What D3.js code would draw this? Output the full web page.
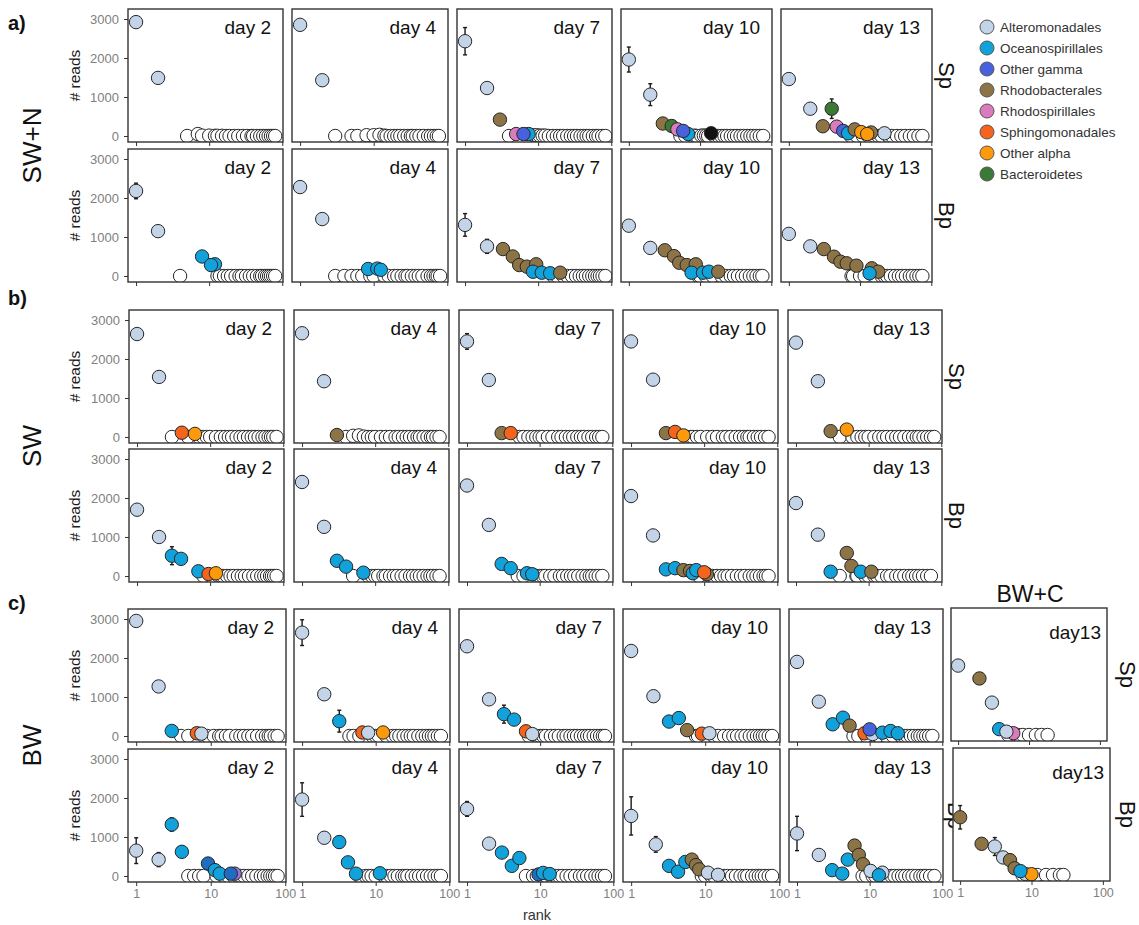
<!DOCTYPE html>
<html><head><meta charset="utf-8">
<script src="https://cdn.jsdelivr.net/npm/d3@7"></script>
<style>
body{margin:0;background:#fff}
svg{display:block;font-family:"Liberation Sans",Arial,Helvetica,sans-serif}
</style>
</head><body>
<svg id="chart" width="1139" height="925"></svg>
<script>
// ---- categories and labels ----
const taxa = ["Alteromonadales","Oceanospirillales","Other gamma","Rhodobacterales","Rhodospirillales","Sphingomonadales","Other alpha","Bacteroidetes"];
const taxaCodes = ["A","O","G","R","S","P","L","B"];
const taxaColors = ["#c3d4e8","#12a2db","#4762dc","#8d7446","#d97bbd","#f4641c","#fd9a0b","#3b7a35"];
// unlisted taxa that still get their own fill
const extraCodes = ["-","K","D","V"];
const extraColors = ["#ffffff","#111111","#1f6cc0","#9d72d8"];
const days = ["day 2","day 4","day 7","day 10","day 13"];
const fractions = ["Sp","Bp"];
const treatments = ["SW+N","SW","BW"];
const panelTags = ["a)","b)","c)"];
const xTicks = [1,10,100];
const yTicks = [0,1000,2000,3000];

// ---- SW+N : [rank, reads, taxon, error] ; *_o = remaining taxa [rank, reads] ----
const SWN_Sp_d2 = [[1,2920,"A"],[2,1490,"A"]];
const SWN_Sp_d2_o = [[5,0],[7,50],[8,10],[10,10],[12,5],[13,5],[15,5],[17,0],[19,0],[22,0],[25,0],[29,0],[33,0],[38,0],[40,0],[45,0],[50,0],[55,0],[60,0],[65,0],[70,0],[75,0],[80,0]];
const SWN_Bp_d2 = [[1,2180,"A",200],[2,1150,"A"],[8,500,"O"],[12,300,"O"],[10.6,280,"O"]];
const SWN_Bp_d2_o = [[4,0],[13,0],[14,5],[16,0],[18,0],[20,0],[23,0],[26,0],[28,0],[32,0],[36,0],[40,0],[45,0],[50,0],[53,0],[58,0],[62,0],[66,0],[70,0],[75,0],[80,0]];
const SWN_Sp_d4 = [[1,2850,"A"],[2,1430,"A"]];
const SWN_Sp_d4_o = [[3,0],[5,0],[6,0],[8,20],[10,20],[12,30],[14,10],[15,0],[17,0],[19,0],[21,0],[23,0],[26,0],[29,0],[32,0],[34,0],[38,0],[42,0],[48,0],[55,0],[60,0],[66,0],[72,0],[77,0]];
const SWN_Bp_d4 = [[1,2280,"A"],[2,1460,"A"],[8.4,180,"O"],[11.2,190,"O"],[12.5,160,"O"]];
const SWN_Bp_d4_o = [[3,0],[4,0],[5,0],[6,0],[7,0],[9,0],[10,0],[14,0],[16,0],[19,0],[21,0],[24,0],[27,0],[29,0],[33,0],[37,0],[41,0],[46,0],[54,0],[60,0],[65,0],[70,0],[74,0],[80,0]];
const SWN_Sp_d7 = [[1,2430,"A",350],[2,1230,"A",80],[3,420,"R"],[5,50,"S"],[7.4,50,"O"],[6.3,50,"G"]];
const SWN_Sp_d7_o = [[4,0],[8.6,20],[9.5,20],[10.5,10],[11.5,10],[12.5,10],[14,0],[16,0],[18,0],[20,0],[22,0],[25,0],[28,0],[31,0],[34,0],[38,0],[42,0],[46,0],[50,0],[56,0],[62,0],[67,0],[75,0],[83,0]];
const SWN_Bp_d7 = [[1,1310,"A",290],[2,760,"A",180],[3.3,690,"R"],[4.5,500,"R"],[5.5,280,"R"],[7,240,"R"],[9.4,300,"R"],[8.5,110,"O"],[11.2,85,"O"],[14.6,70,"O"],[20,85,"R"]];
const SWN_Bp_d7_o = [[16,0],[18,0],[22,0],[25,0],[29,0],[33,0],[37,0],[41,0],[45,0],[50,0],[55,0],[60,0],[65,0],[70,0],[76,0],[83,0]];
const SWN_Sp_d10 = [[1,1960,"A",320],[2,1060,"A",280],[3,320,"R"],[4,256,"B"],[4.8,170,"S"],[6.8,50,"O"],[5.8,130,"G"],[14.3,70,"K",30]];
const SWN_Sp_d10_o = [[5.3,0],[6.2,0],[8.4,10],[9,0],[10.4,10],[11.3,10],[12.2,10],[13,0],[16,0],[18,0],[20,0],[22,0],[24,0],[27,0],[30,0],[33,0],[37,0],[41,0],[46,0],[51,0],[56,0],[62,0],[69,0],[77,0]];
const SWN_Bp_d10 = [[1,1290,"A",120],[2,720,"A"],[3.2,660,"R"],[4.3,510,"R"],[5.1,340,"R"],[6.5,280,"R"],[8.7,300,"R"],[7.6,85,"O"],[11,85,"O"],[13.3,110,"O"],[18,110,"R"]];
const SWN_Bp_d10_o = [[9.4,0],[10,0],[12,0],[15,0],[20,0],[23,0],[27,0],[30,0],[34,0],[39,0],[44,0],[50,0],[56,0],[62,0],[69,0],[75,0]];
const SWN_Sp_d13 = [[1,1460,"A"],[2,700,"A"],[3,250,"R"],[4,700,"B",250],[4.7,240,"S"],[5.8,130,"G"],[6.8,70,"O"],[8.4,170,"R"],[14.3,90,"R"],[10.4,100,"L"],[12.6,50,"L"],[22,70,"A"]];
const SWN_Sp_d13_o = [[7.4,0],[9,0],[11,0],[13,0],[16,0],[18,0],[20,0],[25,0],[28,0],[33,0],[38,0],[43,0],[50,0],[57,0],[66,0],[75,0]];
const SWN_Bp_d13 = [[1,1080,"A"],[2,760,"A"],[3.1,690,"R"],[4.3,495,"R"],[5.3,367,"R"],[6.5,325,"R"],[8.9,265,"R"],[14.6,197,"R"],[18,110,"R"],[13.6,70,"O"]];
const SWN_Bp_d13_o = [[7.6,0],[8,0],[10,0],[11.6,0],[16,0],[20,0],[22,0],[24,0],[27,0],[31,0],[35,0],[39,0],[44,0],[50,0],[55,0],[62,0],[68,0],[75,0]];

// ---- SW ----
const SW_Sp_d2 = [[1,2640,"A"],[2,1540,"A"],[4.1,110,"P"],[6.2,80,"L"]];
const SW_Sp_d2_o = [[3,0],[5,0],[7,0],[8,0],[9,0],[10,0],[12,0],[14,0],[16,0],[18,0],[20,0],[23,0],[26,0],[29,0],[33,0],[37,0],[41,0],[46,0],[52,0],[57,0],[63,0],[68,0],[73,0],[81,0]];
const SW_Bp_d2 = [[1,1700,"A"],[2,1000,"A"],[3,520,"O",230],[4,440,"O"],[6.9,120,"O"],[9.5,50,"P"],[12,70,"L"]];
const SW_Bp_d2_o = [[8.1,0],[13,0],[14,0],[15,0],[17,0],[19,0],[21,0],[24,0],[27,0],[30,0],[34,0],[39,0],[44,0],[50,0],[55,0],[60,0],[66,0],[70,0],[75,0],[81,0]];
const SW_Sp_d4 = [[1,2660,"A"],[2,1430,"A"],[3,50,"R"]];
const SW_Sp_d4_o = [[4,0],[5,30],[6,40],[7,10],[8,0],[9,0],[10,0],[12,0],[14,0],[16,0],[19,0],[21,0],[24,0],[27,0],[30,0],[34,0],[38,0],[41,0],[46,0],[52,0],[58,0],[62,0],[69,0],[76,0]];
const SW_Bp_d4 = [[1,2410,"A"],[2,1260,"A"],[3,390,"O"],[4,240,"O"],[6.9,85,"O"]];
const SW_Bp_d4_o = [[5,0],[8,0],[9,0],[10,0],[11,0],[13,0],[14,0],[16,0],[18,0],[20,0],[23,0],[26,0],[30,0],[33,0],[37,0],[41,0],[46,0],[52,0],[57,0],[62,0],[69,0],[76,0]];
const SW_Sp_d7 = [[1,2450,"A",200],[2,1460,"A"],[3,100,"R"],[4,100,"P"]];
const SW_Sp_d7_o = [[5.3,0],[6,0],[7,0],[8,0],[9,0],[10,0],[11,0],[13,0],[15,0],[18,0],[20,0],[23,0],[26,0],[29,0],[33,0],[37,0],[41,0],[47,0],[53,0],[60,0],[66,0],[73,0]];
const SW_Bp_d7 = [[1,2320,"A"],[2,1310,"A"],[3,310,"O"],[4,200,"O"],[6.7,70,"O"],[7.9,45,"O"]];
const SW_Bp_d7_o = [[5,0],[6,0],[9,0],[10,0],[11,0],[12,0],[14,0],[16,0],[19,0],[21,0],[24,0],[27,0],[30,0],[34,0],[39,0],[44,0],[49,0],[53,0],[59,0],[65,0],[73,0]];
const SW_Sp_d10 = [[1,2450,"A"],[2,1470,"A"],[3,100,"R"],[4,130,"P"],[5.2,40,"L"]];
const SW_Sp_d10_o = [[5.8,0],[6.5,0],[7,0],[8,0],[9,0],[11,0],[13,0],[15,0],[18,0],[20,0],[23,0],[27,0],[31,0],[35,0],[39,0],[42,0],[48,0],[54,0],[60,0],[68,0],[76,0]];
const SW_Bp_d10 = [[1,2050,"A",60],[2,1040,"A"],[3,170,"O"],[4,200,"O"],[5.2,150,"R"],[6.4,130,"R"],[7,70,"O"],[7.8,150,"O"],[10.9,45,"R"],[10,95,"P"]];
const SW_Bp_d10_o = [[8.5,0],[12,0],[13,0],[15,0],[17,0],[19,0],[21,0],[24,0],[28,0],[32,0],[36,0],[42,0],[47,0],[52,0],[58,0],[65,0],[70,0],[76,0]];
const SW_Sp_d13 = [[1,2420,"A"],[2,1430,"A"],[3,150,"R"],[5,190,"L"]];
const SW_Sp_d13_o = [[4,0],[6,0],[7,0],[8,0],[9,0],[10,0],[12,0],[14,0],[16,0],[18,0],[21,0],[24,0],[27,0],[31,0],[36,0],[41,0],[46,0],[50,0],[57,0],[64,0],[72,0],[80,0]];
const SW_Bp_d13 = [[1,1870,"A"],[2,1060,"A",130],[3,110,"O"],[5,590,"R",100],[5.8,256,"R"],[7.8,110,"O"],[10.9,110,"R"]];
const SW_Bp_d13_o = [[4,0],[6.8,0],[7,0],[9,0],[10,0],[12,0],[13,0],[15,0],[18,0],[20,0],[24,0],[27,0],[31,0],[36,0],[40,0],[45,0],[50,0],[56,0],[64,0],[72,0]];

// ---- BW ----
const BW_Sp_d2 = [[1,2950,"A"],[2,1270,"A"],[3,130,"O"],[6.5,70,"P"],[7.5,60,"A"]];
const BW_Sp_d2_o = [[4,0],[5,0],[8,0],[9,0],[11,0],[13,0],[14,0],[16,0],[18,0],[22,0],[25,0],[28,0],[32,0],[36,0],[42,0],[49,0],[55,0],[60,0],[64,0],[72,0],[79,0]];
const BW_Bp_d2 = [[1,650,"A",330],[2,420,"A",180],[3,1320,"O",170],[4.1,620,"O"],[9.2,320,"D"],[11.4,150,"O"],[13.2,60,"O"],[21,60,"V"],[18.6,60,"D"]];
const BW_Bp_d2_o = [[5,0],[6,0],[7,0],[8,0],[12,0],[15,0],[17,0],[20,0],[23,0],[25,0],[28,0],[32,0],[36,0],[41,0],[47,0],[52,0],[58,0],[63,0],[68,0],[73,0],[79,0]];
const BW_Sp_d4 = [[1,2650,"A",330],[2,1070,"A"],[3.2,380,"O",280],[6.6,90,"P"],[7.9,85,"A"],[12.6,90,"L"]];
const BW_Sp_d4_o = [[4.4,0],[5,0],[6,0],[9,0],[10,0],[11,0],[14,0],[17,0],[19,0],[21,0],[24,0],[27,0],[30,0],[33,0],[38,0],[43,0],[48,0],[53,0],[58,0],[63,0],[70,0],[77,0]];
const BW_Bp_d4 = [[1,1960,"A",430],[2,980,"A"],[3.2,870,"O",150],[4.2,350,"O"],[5.4,60,"O"],[11.4,70,"O"]];
const BW_Bp_d4_o = [[6,0],[7.3,0],[8,0],[8.8,0],[10,0],[13,0],[14,0],[16,0],[18,0],[20,0],[23,0],[25,0],[27,0],[31,0],[35,0],[39,0],[44,0],[50,0],[56,0],[63,0],[70,0],[77,0]];
const BW_Sp_d7 = [[1,2300,"A"],[2,940,"A"],[3.2,560,"O",230],[4.4,420,"O"],[6.4,120,"P"],[7.8,50,"A"]];
const BW_Sp_d7_o = [[7,0],[9,0],[10,0],[11,0],[12,0],[14,0],[16,0],[18,0],[21,0],[23,0],[26,0],[29,0],[32,0],[36,0],[40,0],[44,0],[48,0],[54,0],[60,0],[66,0],[72,0],[77,0]];
const BW_Bp_d7 = [[1,1720,"A",190],[2,830,"A"],[3,600,"O"],[4.1,260,"O"],[5.2,460,"O"],[9.5,40,"D"],[11,80,"O"],[13.5,50,"O"]];
const BW_Bp_d7_o = [[6.4,0],[8,0],[9,0],[10.5,0],[12,0],[14,0],[16,0],[18,0],[20,0],[23,0],[26,0],[30,0],[35,0],[39,0],[44,0],[50,0],[57,0],[63,0],[70,0],[77,0]];
const BW_Sp_d10 = [[1,2180,"A"],[2,1020,"A"],[3.25,370,"O"],[4.4,460,"O"],[5.7,150,"R"],[9,60,"P"],[11.4,70,"A"]];
const BW_Sp_d10_o = [[7.5,0],[8,0],[13,0],[15,0],[18,0],[21,0],[24,0],[27,0],[31,0],[35,0],[40,0],[45,0],[50,0],[55,0],[60,0],[65,0],[72,0],[80,0]];
const BW_Bp_d10 = [[1,1540,"A",490],[2.15,810,"A",200],[3.25,260,"O"],[4.3,110,"O"],[5.4,360,"O"],[6.6,420,"R",80],[7.5,280,"R"],[8.3,170,"R"],[10.9,85,"A"],[14.9,30,"A"]];
const BW_Bp_d10_o = [[9,0],[10,0],[12,0],[13,0],[16,0],[18,0],[20,0],[23,0],[26,0],[30,0],[34,0],[37,0],[43,0],[48,0],[53,0],[58,0],[64,0],[72,0],[80,0]];
const BW_Sp_d13 = [[1,1900,"A"],[2,880,"A"],[3.1,300,"O"],[4.3,470,"O"],[5.3,265,"R"],[8.5,70,"P"],[11,50,"A"],[10,170,"G"],[15,85,"O"],[19.4,128,"O"],[24.4,70,"O"]];
const BW_Sp_d13_o = [[6,0],[7,0],[9,0],[12,0],[13,0],[17,0],[21,0],[27,0],[30,0],[33,0],[37,0],[41,0],[46,0],[50,0],[55,0],[60,0],[66,0],[73,0]];
const BW_Bp_d13 = [[1,1090,"A",440],[2,540,"A"],[3.05,150,"O"],[4.2,60,"O"],[5,420,"O"],[6.2,780,"R",150],[7.1,540,"R"],[8.1,300,"R"],[10.3,130,"A"],[15,85,"A"],[13.4,20,"O"]];
const BW_Bp_d13_o = [[8,0],[9,0],[11,0],[12,0],[14,0],[17,0],[20,0],[22,0],[25,0],[28,0],[31,0],[35,0],[39,0],[44,0],[50,0],[55,0],[60,0],[68,0],[78,0]];

// ---- BW+C ----
const BWC_day = "day13";
const BWC_Sp_d13 = [[1,1780,"A"],[2,1450,"R"],[3,830,"A"],[3.8,150,"O"],[6,45,"S"],[4.8,85,"A"]];
const BWC_Sp_d13_o = [[5.1,0],[7,0],[8.2,0],[10,0],[12.5,0],[15,0],[18.3,0]];
const BWC_Bp_d13 = [[1,1480,"R",300],[2,800,"R"],[3.06,730,"A",230],[4,450,"A"],[5,380,"R",150],[5.8,172,"R"],[8.2,25,"A"],[10,20,"L"],[7,100,"O"]];
const BWC_Bp_d13_o = [[7.5,0],[9,0],[12,0],[16,0],[20,0],[25,0],[28,0]];

// ---- panel tables ----
const gridData = [
  [[SWN_Sp_d2,SWN_Sp_d4,SWN_Sp_d7,SWN_Sp_d10,SWN_Sp_d13],[SWN_Bp_d2,SWN_Bp_d4,SWN_Bp_d7,SWN_Bp_d10,SWN_Bp_d13]],
  [[SW_Sp_d2,SW_Sp_d4,SW_Sp_d7,SW_Sp_d10,SW_Sp_d13],[SW_Bp_d2,SW_Bp_d4,SW_Bp_d7,SW_Bp_d10,SW_Bp_d13]],
  [[BW_Sp_d2,BW_Sp_d4,BW_Sp_d7,BW_Sp_d10,BW_Sp_d13],[BW_Bp_d2,BW_Bp_d4,BW_Bp_d7,BW_Bp_d10,BW_Bp_d13]]
];
const gridOther = [
  [[SWN_Sp_d2_o,SWN_Sp_d4_o,SWN_Sp_d7_o,SWN_Sp_d10_o,SWN_Sp_d13_o],[SWN_Bp_d2_o,SWN_Bp_d4_o,SWN_Bp_d7_o,SWN_Bp_d10_o,SWN_Bp_d13_o]],
  [[SW_Sp_d2_o,SW_Sp_d4_o,SW_Sp_d7_o,SW_Sp_d10_o,SW_Sp_d13_o],[SW_Bp_d2_o,SW_Bp_d4_o,SW_Bp_d7_o,SW_Bp_d10_o,SW_Bp_d13_o]],
  [[BW_Sp_d2_o,BW_Sp_d4_o,BW_Sp_d7_o,BW_Sp_d10_o,BW_Sp_d13_o],[BW_Bp_d2_o,BW_Bp_d4_o,BW_Bp_d7_o,BW_Bp_d10_o,BW_Bp_d13_o]]
];

// ---- layout ----
const PH = 133;
const layout = [
  {tops:[9,149],   lefts:[128,292,457,621,781], rights:[283,448,612,772,932], stripX:947, tagY:30},
  {tops:[310,449], lefts:[129,294,459,623,788], rights:[284,449,613,778,942], stripX:957, tagY:305},
  {tops:[609,749], lefts:[128,294,459,623,789], rights:[286,450,614,780,943], stripX:956, tagY:610}
];
const xDomMain = [Math.pow(10,-0.11), Math.pow(10,2.01)];
const xDomBWC  = [Math.pow(10,-0.10), Math.pow(10,2.10)];
const yDom = [-154, 3256];

const colorOf = code => {
  const i = taxaCodes.indexOf(code);
  return i >= 0 ? taxaColors[i] : extraColors[extraCodes.indexOf(code)];
};

const svg = d3.select("#chart");
const defs = svg.append("defs");
let clipN = 0;

function drawPanel(g, o) {
  const x = d3.scaleLog().domain(o.xDom).range([o.left, o.right]);
  const y = d3.scaleLinear().domain(yDom).range([o.top + PH, o.top]);
  const id = "clip" + (clipN++);
  defs.append("clipPath").attr("id", id).append("rect")
    .attr("x", o.left).attr("y", o.top).attr("width", o.right - o.left).attr("height", PH);

  g.append("rect").attr("x", o.left).attr("y", o.top)
    .attr("width", o.right - o.left).attr("height", PH).attr("fill", "#fff");

  const body = g.append("g").attr("clip-path", `url(#${id})`);
  const pts = o.other.map(d => ({r:d[0], v:d[1], c:"-", e:0}))
    .concat(o.data.map(d => ({r:d[0], v:d[1], c:d[2], e:d[3] || 0})));

  // error bars
  const eb = body.append("g").attr("stroke", "#1a1a1a").attr("stroke-width", 1.4).attr("fill", "none");
  pts.filter(d => d.e > 0).forEach(d => {
    const cx = x(d.r), y1 = y(d.v + d.e), y2 = y(d.v - d.e);
    eb.append("line").attr("x1", cx).attr("x2", cx).attr("y1", y1).attr("y2", y2);
    eb.append("line").attr("x1", cx - 2).attr("x2", cx + 2).attr("y1", y1).attr("y2", y1);
    eb.append("line").attr("x1", cx - 2).attr("x2", cx + 2).attr("y1", y2).attr("y2", y2);
  });

  body.append("g").selectAll("circle").data(pts).join("circle")
    .attr("cx", d => x(d.r)).attr("cy", d => y(d.v)).attr("r", 6.7)
    .attr("fill", d => colorOf(d.c)).attr("stroke", "#262626").attr("stroke-width", 1);

  g.append("rect").attr("x", o.left).attr("y", o.top)
    .attr("width", o.right - o.left).attr("height", PH)
    .attr("fill", "none").attr("stroke", "#333").attr("stroke-width", 1.4);

  // x axis
  const xa = g.append("g").attr("transform", `translate(0,${o.top + PH})`)
    .call(d3.axisBottom(x).tickValues(xTicks).tickSize(4).tickPadding(3)
      .tickFormat(o.xLabels ? d3.format("d") : ""));
  xa.select(".domain").remove();
  xa.selectAll("line").attr("stroke", "#333");
  xa.selectAll("text").attr("fill", "#808080").attr("font-size", 12.5).attr("font-family", null);

  if (o.yAxis) {
    const ya = g.append("g").attr("transform", `translate(${o.left},0)`)
      .call(d3.axisLeft(y).tickValues(yTicks).tickSize(4).tickPadding(5).tickFormat(d3.format("d")));
    ya.select(".domain").remove();
    ya.selectAll("line").attr("stroke", "#333");
    ya.selectAll("text").attr("fill", "#808080").attr("font-size", 13).attr("font-family", null);
    g.append("text").attr("transform", `translate(80,${o.top + PH / 2}) rotate(-90)`)
      .attr("text-anchor", "middle").attr("font-size", 15.5).attr("fill", "#1a1a1a").text("# reads");
  }

  g.append("text").attr("x", o.right - o.padR).attr("y", o.top + o.dayDy)
    .attr("text-anchor", "end").attr("font-size", 19).attr("fill", "#111").text(o.day);
}

// ---- three facet grids ----
layout.forEach((L, gi) => {
  const g = svg.append("g");
  fractions.forEach((fr, ri) => {
    // strip label on the right of each row (the BW grid's Sp label sits under the BW+C column)
    if (!(gi === 2 && ri === 0)) {
      g.append("text")
        .attr("transform", `translate(${L.stripX},${L.tops[ri] + PH / 2}) rotate(90)`)
        .attr("text-anchor", "middle").attr("dy", "0.35em")
        .attr("font-size", 22).attr("fill", "#111").text(fr);
    }
    days.forEach((day, ci) => {
      drawPanel(g, {
        left: L.lefts[ci], right: L.rights[ci], top: L.tops[ri],
        data: gridData[gi][ri][ci], other: gridOther[gi][ri][ci],
        xDom: xDomMain, yAxis: ci === 0, xLabels: gi === 2 && ri === 1,
        day: day, padR: 12, dayDy: 25
      });
    });
  });
  svg.append("text").attr("x", 8).attr("y", L.tagY)
    .attr("font-size", 20).attr("font-weight", "bold").attr("fill", "#111").text(panelTags[gi]);
  svg.append("text")
    .attr("transform", `translate(32,${(L.tops[0] + L.tops[1] + PH) / 2}) rotate(-90)`)
    .attr("text-anchor", "middle").attr("dy", "0.35em")
    .attr("font-size", 26).attr("fill", "#111").text(treatments[gi]);
});

// ---- BW+C single-day column ----
const gC = svg.append("g");
const bwcPanels = [
  {left:951, right:1107, top:608, data:BWC_Sp_d13, other:BWC_Sp_d13_o, xLabels:false},
  {left:953, right:1110, top:748, data:BWC_Bp_d13, other:BWC_Bp_d13_o, xLabels:true}
];
bwcPanels.forEach((p, ri) => {
  drawPanel(gC, Object.assign({xDom: xDomBWC, yAxis:false, day: BWC_day, padR: 6, dayDy: 31}, p));
  gC.append("text")
    .attr("transform", `translate(1128,${p.top + PH / 2}) rotate(90)`)
    .attr("text-anchor", "middle").attr("dy", "0.35em")
    .attr("font-size", 22).attr("fill", "#111").text(fractions[ri]);
});
gC.append("text").attr("x", 1030).attr("y", 602).attr("text-anchor", "middle")
  .attr("font-size", 23).attr("fill", "#111").text("BW+C");

// x-axis title
svg.append("text").attr("x", 537).attr("y", 920).attr("text-anchor", "middle")
  .attr("font-size", 14.5).attr("fill", "#333").text("rank");

// ---- legend ----
const lg = svg.append("g").attr("transform", "translate(987,27)");
const items = lg.selectAll("g").data(taxa).join("g")
  .attr("transform", (d, i) => `translate(0,${i * 21})`);
items.append("circle").attr("r", 7)
  .attr("fill", (d, i) => taxaColors[i]).attr("stroke", "#555").attr("stroke-width", 1);
items.append("text").attr("x", 13).attr("dy", "0.35em")
  .attr("font-size", 13.5).attr("fill", "#333").text(d => d);
</script>
</body></html>
